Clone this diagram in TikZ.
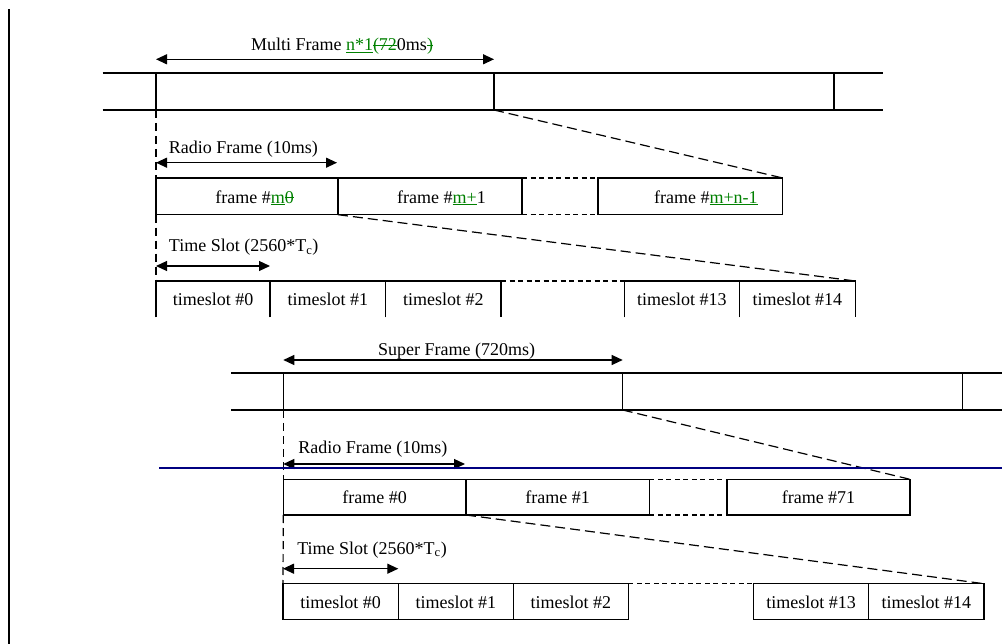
\documentclass[tikz,border=0pt]{standalone}
\usepackage{fontspec}
\setmainfont{Liberation Serif}
\usetikzlibrary{arrows.meta}
\definecolor{grn}{RGB}{0,128,0}
\definecolor{navyline}{RGB}{0,0,128}
\newcommand\strk[1]{\sbox0{#1}\rlap{\rule[0.27em]{\wd0}{0.9pt}}\usebox0}
\begin{document}
\begin{tikzpicture}[x=1pt,y=-1pt,line width=1.2pt,
  txt/.style={font=\fontsize{18}{21}\selectfont},
  cell/.style={draw,rectangle,inner sep=0pt,outer sep=0pt,anchor=north west,
    txt,text height=13.5pt,text depth=0pt,minimum width=#1},
  opencell/.style={cell=#1,draw=none},
  lbl/.style={txt,inner sep=0pt,anchor=base},
  lblw/.style={txt,inner sep=0pt,anchor=base west},
  dim/.style={{Triangle[length=11pt,width=10pt]}-{Triangle[length=11pt,width=10pt]}},
  guide/.style={dash pattern=on 8pt off 5pt},
  zoomline/.style={dash pattern=on 10pt off 5pt},
  gap/.style={dash pattern=on 5pt off 3.5pt}]
\useasboundingbox (0,0) rectangle (1002,644);

% left margin bar
\draw[line width=2.2pt] (9,9.3) -- (9,644);

% ================= upper diagram =================
\node[cell=338pt,minimum height=37pt] (mf1) at (156,73) {};
\node[cell=340pt,minimum height=37pt] (mf2) at (494,73) {};
\coordinate (ul1) at (102.7,73);
\coordinate (ul2) at (102.7,110);
\coordinate (ur1) at (883,73);
\coordinate (ur2) at (883,110);
\draw (ul1) -- (mf1.north west);
\draw (ul2) -- (mf1.south west);
\draw (mf2.north east) -- (ur1);
\draw (mf2.south east) -- (ur2);

\draw[dim] ([yshift=13.7pt]mf1.north west) -- ([yshift=13.7pt]mf1.north east);
\node[lbl] (tmf) at (342,51) {Multi Frame \textcolor{grn}{\underline{n*1}\strk{(72}}0ms\textcolor{grn}{\strk{)}}};

\node[cell=182pt,minimum height=36.7pt] (fr1) at (156,178) {\hspace*{15.4pt}frame \#\textcolor{grn}{\underline{m}\strk{0}}};
\node[cell=184pt,minimum height=36.7pt] (fr2) at (338,178) {\hspace*{23pt}frame \#\textcolor{grn}{\underline{m+}}1};
\node[cell=184.7pt,minimum height=36.7pt] (fr3) at (598,178) {\hspace*{31pt}frame \#\textcolor{grn}{\underline{m+n-1}}};
\draw[gap] (fr2.north east) -- (fr3.north west);
\draw[gap] (fr2.south east) -- (fr3.south west);

\draw[dim] ([yshift=15.3pt]fr1.north west) -- ([xshift=-1pt,yshift=15.3pt]fr1.north east);
\node[lblw] (trf) at (168.3,153.5) {Radio Frame (10ms)};

\draw[guide] (mf1.south west) -- (fr1.north west);
\draw[zoomline] (mf1.south east) -- (fr3.north east);

\node[opencell=114pt,minimum height=36.5pt] (ts0) at (156,281) {timeslot \#0};
\node[opencell=115.7pt,minimum height=36.5pt] (ts1) at (270,281) {timeslot \#1};
\node[opencell=115.3pt,minimum height=36.5pt] (ts2) at (385.7,281) {timeslot \#2};
\node[opencell=115pt,minimum height=36.5pt] (ts13) at (624.3,281) {timeslot \#13};
\node[opencell=116pt,minimum height=36.5pt] (ts14) at (739.3,281) {timeslot \#14};
\foreach \n in {ts0,ts1,ts2,ts13,ts14}
  \draw (\n.south west) -- (\n.north west) -- (\n.north east) -- (\n.south east);
\draw[gap] (ts2.north east) -- (ts13.north west);

\draw[dim] ([yshift=15pt]ts0.north west) -- ([yshift=15pt]ts0.north east);
\node[lblw] (tts) at (168.3,251.7) {Time Slot (2560*T\textsubscript{c})};

\draw[guide] (fr1.south west) -- (ts0.north west);
\draw[zoomline] (fr1.south east) -- (ts14.north east);

% ================= lower diagram =================
\node[cell=339.4pt,minimum height=37pt] (sf1) at (283.3,373) {};
\node[cell=340pt,minimum height=37pt] (sf2) at (622.7,373) {};
\coordinate (ll1) at (231,373);
\coordinate (ll2) at (231,410);
\coordinate (lr1) at (1002,373);
\coordinate (lr2) at (1002,410);
\draw (ll1) -- (sf1.north west);
\draw (ll2) -- (sf1.south west);
\draw (sf2.north east) -- (lr1);
\draw (sf2.south east) -- (lr2);

\draw[dim] ([yshift=13pt]sf1.north west) -- ([yshift=13pt]sf1.north east);
\node[lbl] (tsf) at (456.7,356) {Super Frame (720ms)};

\node[cell=182.7pt,minimum height=35.7pt] (g1) at (283.3,479.3) {frame \#0};
\node[cell=183.3pt,minimum height=35.7pt] (g2) at (466,479.3) {frame \#1};
\node[cell=183pt,minimum height=35.7pt] (g3) at (727,479.3) {frame \#71};
\draw[gap] (g2.north east) -- (g3.north west);
\draw[gap] (g2.south east) -- (g3.south west);

\draw[dim] ([yshift=15.3pt]g1.north west) -- ([xshift=-1pt,yshift=15.3pt]g1.north east);
\node[lblw] (trf2) at (297.7,453.3) {Radio Frame (10ms)};

\draw[guide] (sf1.south west) -- (g1.north west);
\draw[zoomline] (sf1.south east) -- (g3.north east);

\node[cell=115.3pt,minimum height=35.6pt] (u0) at (283,583.7) {timeslot \#0};
\node[cell=115pt,minimum height=35.6pt] (u1) at (398.3,583.7) {timeslot \#1};
\node[cell=115pt,minimum height=35.6pt] (u2) at (513.3,583.7) {timeslot \#2};
\node[cell=115.4pt,minimum height=35.6pt] (u13) at (753.3,583.7) {timeslot \#13};
\node[cell=115.3pt,minimum height=35.6pt] (u14) at (868.7,583.7) {timeslot \#14};
\draw[gap] (u2.north east) -- (u13.north west);

\draw[dim] ([yshift=15pt]u0.north west) -- ([yshift=15pt]u0.north east);
\node[lblw] (tts2) at (296.7,554) {Time Slot (2560*T\textsubscript{c})};

\draw[guide] (g1.south west) -- (u0.north west);
\draw[zoomline] (g1.south east) -- (u14.north east);

% blue horizontal rule
\draw[navyline,line width=2pt] (159,467.5) -- (1002,467.5);
\end{tikzpicture}
\end{document}
